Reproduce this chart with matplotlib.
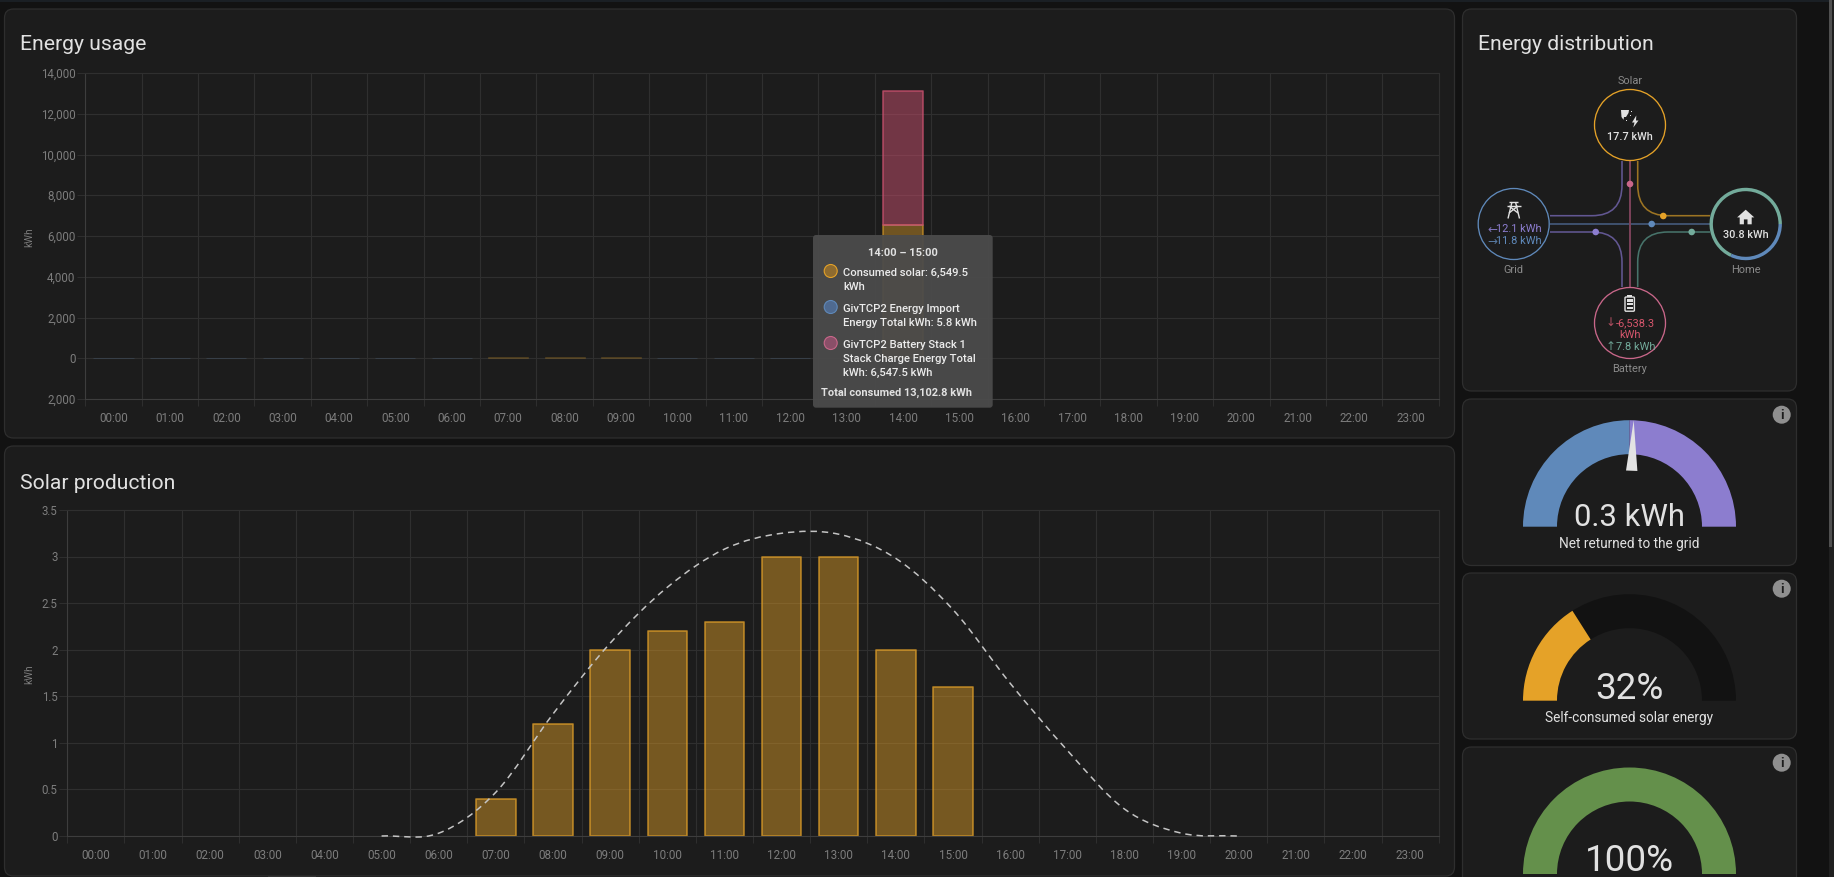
import numpy as np
import matplotlib
matplotlib.use("Agg")
import matplotlib.pyplot as plt
from matplotlib.patches import FancyBboxPatch, Circle, Wedge, Polygon, PathPatch, Rectangle
from matplotlib.path import Path
from matplotlib.transforms import ScaledTranslation

plt.rcParams['font.family'] = ['Roboto', 'DejaVu Sans']

W, H = 1834, 878

# ---------- data ----------
hours = [f"{h:02d}:00" for h in range(24)]
usage_solar = [0, 0, 0, 0, 0, 0, 0, 40, 40, 40, 0, 0, 0, 0, 6549.5, 0, 0, 0, 0, 0, 0, 0, 0, 0]
usage_grid = [20, 20, 20, 20, 20, 20, 20, 0, 0, 0, 30, 20, 20, 0, 5.8, 0, 0, 0, 0, 0, 0, 0, 0, 0]
usage_battery = [0, 0, 0, 0, 0, 0, 0, 0, 0, 0, 0, 0, 0, 0, 6547.5, 0, 0, 0, 0, 0, 0, 0, 0, 0]
usage_yticks = [-2000, 0, 2000, 4000, 6000, 8000, 10000, 12000, 14000]
usage_ylabels = ["2,000", "0", "2,000", "4,000", "6,000", "8,000", "10,000", "12,000", "14,000"]

solar_hours = [7, 8, 9, 10, 11, 12, 13, 14, 15]
solar_values = [0.4, 1.2, 2.0, 2.2, 2.3, 3.0, 3.0, 2.0, 1.6]
solar_yticks = [0, 0.5, 1, 1.5, 2, 2.5, 3, 3.5]
solar_ylabels = ["0", "0.5", "1", "1.5", "2", "2.5", "3", "3.5"]
forecast_hours = [5, 6, 7, 8, 9, 10, 11, 12, 13, 14, 15, 16, 17, 18, 19, 20]
forecast_values = [0, 0.03, 0.47, 1.31, 2.07, 2.67, 3.08, 3.25, 3.24, 2.98, 2.43, 1.64, 0.92, 0.29, 0.03, 0]

net_returned = 0.3
grid_in, grid_out = 12.1, 11.8
self_consumed = 32
autarky = 100

# ---------- colours ----------
BG = "#121212"
CARD = "#1c1c1c"
EDGE = "#2e2e2e"
GRID = "#2f2f2f"
AXIS = "#3d3d3d"
TICK = "#7d7d7d"
TXT = "#e1e1e1"
ORANGE = "#e5a228"
BLUE = "#5f89ba"
PURPLE = "#8c7dcf"
PINK = "#c9678a"
RED = "#d6566c"
TEAL = "#73ab9b"
GREEN = "#64904b"
RGB_O = (229/255, 162/255, 40/255)
RGB_B = (95/255, 137/255, 186/255)
RGB_P = (201/255, 80/255, 110/255)

fig = plt.figure(figsize=(W / 100, H / 100), dpi=100, facecolor=BG)


def px_axes(z):
    a = fig.add_axes([0, 0, 1, 1], zorder=z)
    a.set_xlim(0, W)
    a.set_ylim(H, 0)
    a.axis("off")
    a.patch.set_alpha(0)
    return a


back = px_axes(0)
over = px_axes(5)


def card(x0, y0, x1, y1):
    back.add_patch(FancyBboxPatch((x0, y0), x1 - x0, y1 - y0,
                                  boxstyle="round,pad=0,rounding_size=9",
                                  fc=CARD, ec=EDGE, lw=0.9))


back.add_patch(Rectangle((0, 0), W, 2.5, fc="#1a1f24", ec="none"))
back.add_patch(Rectangle((1828.5, 0), 5.5, H, fc="#202020", ec="none"))
back.add_patch(Rectangle((1828.5, 0), 3.5, 548, fc="#505050", ec="none"))
back.add_patch(Rectangle((268, 876.5), 48, 1.5, fc="#3a3a3a", ec="none"))
card(4.5, 10, 1454.5, 439)
card(4.5, 447, 1454.5, 877)
card(1462.5, 10, 1796.5, 392)
card(1462.5, 400, 1796.5, 566.5)
card(1462.5, 574, 1796.5, 740)
card(1462.5, 748, 1796.5, 900)


def T(x, y, s, size=8, color=TXT, ha="center", weight="normal", a=None, **kw):
    return (a or over).text(x, y + 1, s, fontsize=size, color=color, ha=ha, va="center",
                            fontweight=weight, **kw)


T(20.5, 44, "Energy usage", 15.2, ha="left", a=back)
T(20, 483, "Solar production", 15.2, ha="left", a=back)
T(1478, 44, "Energy distribution", 15.2, ha="left", a=back)


def chart(left, right, top, bottom, ylim, yticks, ylabels):
    ax = fig.add_axes([left / W, 1 - bottom / H, (right - left) / W, (bottom - top) / H], zorder=2)
    ax.patch.set_alpha(0)
    ax.set_xlim(0, 24)
    ax.set_ylim(*ylim)
    ax.set_xticks(np.arange(25))
    ax.set_xticklabels([])
    ax.set_xticks(np.arange(24) + 0.5, minor=True)
    ax.set_xticklabels(hours, minor=True)
    ax.set_yticks(yticks)
    ax.set_yticklabels(ylabels)
    ax.grid(True, which="major", color=GRID, lw=0.8)
    ax.set_axisbelow(True)
    ax.tick_params(axis="x", which="major", length=5, width=0.7, color=GRID)
    ax.tick_params(axis="x", which="minor", length=0, pad=8.8, labelsize=8.4, labelcolor=TICK)
    ax.tick_params(axis="y", length=5.5, width=0.7, color=GRID, pad=1.5, labelsize=8.3, labelcolor=TICK)
    up = ScaledTranslation(0, 1.2 / 100, fig.dpi_scale_trans)
    for lbl in ax.get_yticklabels():
        lbl.set_transform(lbl.get_transform() + up)
    for name, sp in ax.spines.items():
        sp.set_color(AXIS if name in ("left", "bottom") else GRID)
        sp.set_linewidth(0.8)
    ax.set_ylabel("kWh", fontsize=7.2, color=TICK)
    ax.yaxis.set_label_coords((34.5 - left) / (right - left), 0.5)
    return ax


# ---------- Energy usage ----------
ax1 = chart(85.3, 1438.7, 74, 400, (-2000, 14000), usage_yticks, usage_ylabels)
xs = np.arange(24) + 0.5
s = np.array(usage_solar)
g = np.array(usage_grid)
b = np.array(usage_battery)
big = s > 1000
tiny_s = (s > 0) & ~big
tiny_g = (g > 0) & ~big
ax1.bar(xs[big], s[big], 0.71, fc=RGB_O + (0.42,), ec=RGB_O + (0.6,), lw=1.2, joinstyle="round")
ax1.bar(xs[big], g[big], 0.71, bottom=s[big], fc=RGB_B + (0.4,), ec=RGB_B + (0.3,), lw=0.7)
ax1.bar(xs[big], b[big], 0.71, bottom=(s + g)[big], fc=RGB_P + (0.5,), ec=RGB_P + (0.75,), lw=1.2, joinstyle="round")
ax1.bar(xs[tiny_s], s[tiny_s], 0.71, fc=RGB_O + (0.12,), ec=RGB_O + (0.22,), lw=0.6)
ax1.bar(xs[tiny_g], g[tiny_g], 0.71, fc=RGB_B + (0.12,), ec=RGB_B + (0.22,), lw=0.6)

# ---------- Solar production ----------
ax2 = chart(67.3, 1438.7, 511, 837, (0, 3.5), solar_yticks, solar_ylabels)
ax2.bar(np.array(solar_hours) + 0.5, solar_values, 0.69,
        fc=RGB_O + (0.45,), ec=RGB_O + (0.68,), lw=1.25, joinstyle="round")

# smooth forecast line drawn through the hourly values with cubic segments
fx = np.array(forecast_hours) + 0.5
fy = np.array(forecast_values)
slope = np.gradient(fy, fx)
verts = [(fx[0], fy[0])]
codes = [Path.MOVETO]
for i in range(len(fx) - 1):
    dx = (fx[i + 1] - fx[i]) / 3
    verts += [(fx[i] + dx, fy[i] + slope[i] * dx), (fx[i + 1] - dx, fy[i + 1] - slope[i + 1] * dx), (fx[i + 1], fy[i + 1])]
    codes += [Path.CURVE4] * 3
ax2.add_patch(PathPatch(Path(verts, codes), fc="none", ec="#c4c4c4", lw=1.1,
                        ls=(0, (4.2, 3.2)), clip_on=False, zorder=4))

# ---------- Tooltip ----------
over.add_patch(FancyBboxPatch((813, 236), 179.7, 172.7, boxstyle="round,pad=0,rounding_size=3",
                              fc=(0.295, 0.295, 0.295, 0.94), ec="none"))
T(902.7, 252, "14:00 – 15:00", 8.0, weight="bold")
for y, fc, ec in [(272, "#8e6b30", ORANGE), (308, "#4f6a90", BLUE), (344, "#8a4f68", PINK)]:
    over.add_patch(Circle((830.7, y), 6.5, fc=fc, ec=ec, lw=0.8))
tip_lines = [
    (272, f"Consumed solar: {usage_solar[14]:,.1f}"), (286, "kWh"),
    (308, "GivTCP2 Energy Import"), (322, f"Energy Total kWh: {usage_grid[14]:.1f} kWh"),
    (344, "GivTCP2 Battery Stack 1"), (358, "Stack Charge Energy Total"),
    (372, f"kWh: {usage_battery[14]:,.1f} kWh"),
]
for y, line in tip_lines:
    T(843.3, y, line, 8.1, ha="left", weight="medium", color="#ececec")
total = usage_solar[14] + usage_grid[14] + usage_battery[14]
T(896.7, 392, f"Total consumed {total:,.1f} kWh", 7.95, weight="bold")

# ---------- Energy distribution ----------
cS, cG, cH, cB = (1630, 126), (1513.7, 225), (1745.7, 225), (1630, 324)
R = 35.5


def flow(pts, codes, color, lw=1.15):
    back.add_patch(PathPatch(Path(pts, codes), fc="none", ec=color, lw=lw))


L, C3 = Path.LINETO, Path.CURVE3
M = Path.MOVETO
fcodes = [M, L, C3, C3, L]
xl, xr, yt, yb = 1622, 1637.7, 216.7, 233
flow([(xl, 162), (xl, 186), (xl, yt), (1592, yt), (1550, yt)], fcodes, "#625792")
flow([(xr, 162), (xr, 186), (xr, yt), (1668, yt), (1710, yt)], fcodes, "#9c7423")
flow([(xl, 288), (xl, 263), (xl, yb), (1592, yb), (1550, yb)], fcodes, "#625792")
flow([(xr, 288), (xr, 263), (xr, yb), (1668, yb), (1710, yb)], fcodes, "#47736a")
flow([(1550, 225), (1710, 225)], [M, L], "#3f526f", 1.4)
flow([(1630, 162), (1630, 288)], [M, L], "#7c435a", 1.4)
for x, y, c in [(1630, 185, PINK), (1663.3, 217, ORANGE), (1651.7, 225, BLUE),
                (1691.7, 233, TEAL), (1595.7, 233, PURPLE)]:
    over.add_patch(Circle((x, y), 3.3, fc=c, ec="none"))

for c, col in [(cS, ORANGE), (cG, BLUE), (cB, PINK)]:
    back.add_patch(Circle(c, R, fc=CARD, ec=col, lw=0.95))
# home ring
back.add_patch(Circle(cH, 34.5, fc=CARD, ec="none"))
back.add_patch(Wedge(cH, 36.2, -245, 0, width=3.4, fc=TEAL, ec="none"))
back.add_patch(Wedge(cH, 36.2, 0, 115, width=3.4, fc=BLUE, ec="none"))

ICON = "#e1e1e1"
# home icon
back.add_patch(Polygon([(1745.7, 210.7), (1754.3, 218.4), (1751.7, 218.4), (1751.7, 225.3), (1747.5, 225.3),
                        (1747.5, 220.4), (1743.9, 220.4), (1743.9, 225.3), (1739.7, 225.3), (1739.7, 218.4),
                        (1737.1, 218.4)], fc=ICON, ec="none"))
# solar icon
back.add_patch(Polygon([(1621, 111), (1629, 111), (1628.5, 114), (1626, 118), (1624, 118), (1623.5, 120.8), (1621.5, 118)], fc=ICON, ec="none"))
for dx_, dy_ in [(1631, 111.5), (1629.5, 116), (1625.5, 120.5)]:
    back.add_patch(Rectangle((dx_, dy_), 1.4, 1.4, fc=ICON, ec="none"))
back.add_patch(Polygon([(1636.3, 116.5), (1632, 123.5), (1634.5, 123.5), (1633.3, 128.5), (1638.5, 121.5), (1636, 121.5)], fc=ICON, ec="none"))
# tower icon
for p, q in [((1509, 202.5), (1518, 202.5)), ((1506.7, 207), (1520.7, 207)), ((1512, 203), (1508, 219.5)),
             ((1515.5, 203), (1519.5, 219.5)), ((1509, 214), (1518, 207)), ((1518, 214), (1509, 207))]:
    back.plot([p[0], q[0]], [p[1], q[1]], color=ICON, lw=1.0, solid_capstyle="butt")
# battery icon
back.add_patch(FancyBboxPatch((1625, 298), 9.4, 14.2, boxstyle="round,pad=0,rounding_size=1",
                              fc="none", ec=ICON, lw=1.0))
back.add_patch(Rectangle((1627.3, 296), 4.8, 2, fc=ICON, ec="none"))
for y in (300, 303.8, 307.6):
    back.add_patch(Rectangle((1626.8, y), 5.8, 2.6, fc=ICON, ec="none"))

GREYL = "#8a8a8a"
T(1630, 80, "Solar", 7.9, GREYL)
T(1630, 135.5, "17.7 kWh", 7.8, weight="medium")
T(1513.7, 269, "Grid", 7.9, GREYL)
T(1745.7, 269, "Home", 7.9, GREYL)
T(1745.7, 234.5, "30.8 kWh", 7.8, weight="medium")
T(1630, 368, "Battery", 7.9, GREYL)
T(1541.5, 228.5, f"{grid_in} kWh", 7.9, PURPLE, ha="right")
T(1541.5, 240.5, f"{grid_out} kWh", 7.9, BLUE, ha="right")
T(1497, 228.5, "←", 8.6, "#7e72b8", ha="right", family="DejaVu Sans")
T(1497, 240.5, "→", 8.6, "#56789f", ha="right", family="DejaVu Sans")
T(1615.5, 322, "↓", 8.6, "#b04e60", ha="right", family="DejaVu Sans")
T(1616, 322, "-6,538.3", 7.9, RED, ha="left")
T(1630, 334, "kWh", 7.9, RED)
T(1615.5, 346, "↑", 8.6, "#68998b", ha="right", family="DejaVu Sans")
T(1616, 346, "7.8 kWh", 7.9, TEAL, ha="left")

# ---------- Gauges ----------
GX, GR, GW = 1629.5, 106.5, 34


def gauge(cy, start, end, color):
    """start and end are on-screen angles in degrees, counter-clockwise from +x"""
    back.add_patch(Wedge((GX, cy), GR, -end, -start, width=GW, fc=color, ec="none"))


gauge(527.7, 90, 180, BLUE)
gauge(527.7, 0, 90, PURPLE)
ang = np.radians(90 - net_returned / (grid_in + grid_out) * 180)
u = np.array([np.cos(ang), -np.sin(ang)])
n = np.array([u[1], -u[0]])
base = np.array([GX, 527.7]) + u * 56
tip = np.array([GX, 527.7]) + u * 106.5
over.add_patch(Polygon([tip, base + n * 5.7, base - n * 5.7], fc="#e3e3e3", ec="none"))
T(1629.5, 517, f"{net_returned} kWh", 22.3, a=back)
T(1629.5, 543, "Net returned to the grid", 9.8, a=back)

gauge(701.7, 0, 180, "#121212")
gauge(701.7, 180 - self_consumed / 100 * 180, 180, ORANGE)
T(1629.5, 688, f"{self_consumed}%", 26.5, a=back)
T(1629.5, 717, "Self-consumed solar energy", 9.8, a=back)

gauge(875, 180 - autarky / 100 * 180, 180, GREEN)
T(1629.5, 860.5, f"{autarky}%", 26.5, a=back)

# info icons
for y in (415.7, 589.7, 763.7):
    back.add_patch(Circle((1781.7, y), 9, fc="#8f8f8f", ec="none"))
    T(1781.7, y - 1, "i", 9.5, CARD, weight="bold", a=back)

fig.savefig("out.png", dpi=100, facecolor=BG)
